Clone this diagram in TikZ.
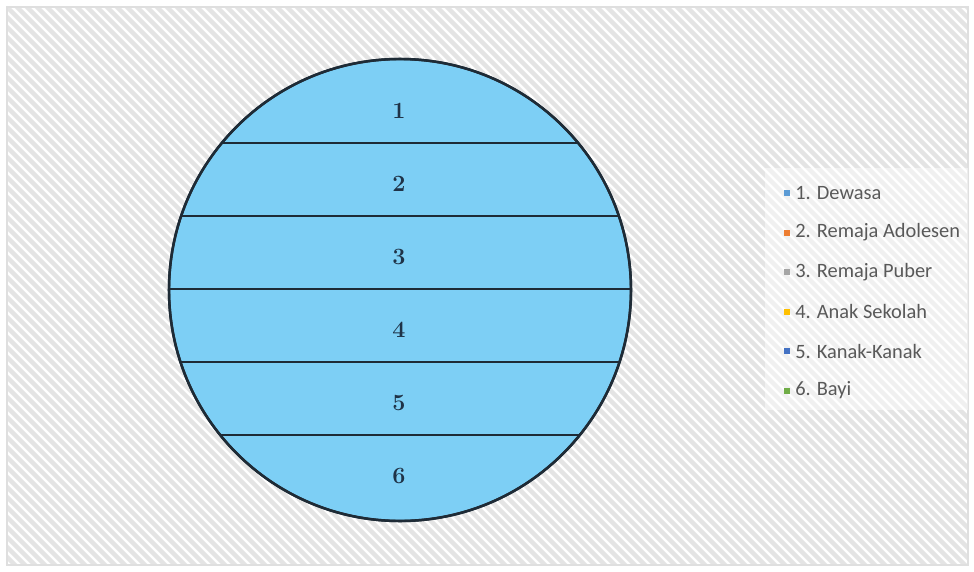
\documentclass[tikz,border=0pt]{standalone}
\usepackage{fontspec}
\newfontfamily\legendfont{Carlito}
\definecolor{bandblue}{HTML}{7DCFF5}
\definecolor{edgedark}{HTML}{1E2B36}
\definecolor{numcol}{HTML}{1F3347}
\definecolor{stripe}{HTML}{E4E4E4}
\definecolor{legtext}{HTML}{595959}
\definecolor{c1}{HTML}{5B9BD5}
\definecolor{c2}{HTML}{ED7D31}
\definecolor{c3}{HTML}{A5A5A5}
\definecolor{c4}{HTML}{FFC000}
\definecolor{c5}{HTML}{4472C4}
\definecolor{c6}{HTML}{70AD47}
\tikzset{
  numlabel/.style={font=\bfseries\fontsize{17.5}{20}\selectfont, text=numcol, inner sep=0pt},
  legmark/.style={minimum size=4.5pt, inner sep=0pt},
  legtxt/.style={font=\legendfont\fontsize{15.3}{18}\selectfont, text=legtext, anchor=west, inner sep=0pt},
  divider/.style={draw=edgedark, line width=1.9pt},
}
\begin{document}
\begin{tikzpicture}[x=0.75pt,y=-0.75pt]
\useasboundingbox (0,0) rectangle (974,571);
\fill[white] (0,0) rectangle (974,571);
\begin{scope}
  \clip (7,7) rectangle (968,565);
  \foreach \k in {-600,-590,...,980} {
    \draw[stripe, line width=3.3pt] (\k,0) -- ++(580,580);
  }
\end{scope}
\draw[gray!25, line width=1pt] (7,7) rectangle (968,565);
% legend backdrop
\fill[white, opacity=0.45] (765,168) rectangle (968,410);
% circle
\node[circle, minimum size=462*0.75pt, inner sep=0pt, fill=bandblue, draw=edgedark, line width=1.8pt] (disc) at (400,290) {};
\begin{scope}
  \clip (400,290) circle[radius=231*0.75pt];
  \foreach \yy in {143,216,289,362,435} {
    \draw[divider] (150,\yy) -- (650,\yy);
  }
\end{scope}
\draw[edgedark, line width=1.9pt] (400,290) circle[radius=231*0.75pt];
\node[numlabel] (n1) at (399,111) {1};
\node[numlabel] (n2) at (399,184) {2};
\node[numlabel] (n3) at (399,257) {3};
\node[numlabel] (n4) at (399,330) {4};
\node[numlabel] (n5) at (399,403) {5};
\node[numlabel] (n6) at (399,476) {6};
% legend
\foreach \i/\c/\t [count=\n] in {0/c1/{1. Dewasa},1/c2/{2. Remaja Adolesen},2/c3/{3. Remaja Puber},3/c4/{4. Anak Sekolah},4/c5/{5. Kanak-Kanak},5/c6/{6. Bayi}} {
  \node[legmark, fill=\c] (m\n) at (787,{193+39.5*\i}) {};
  \node[legtxt] (l\n) at (795,{193+39.5*\i}) {\t};
}
\end{tikzpicture}
\end{document}
